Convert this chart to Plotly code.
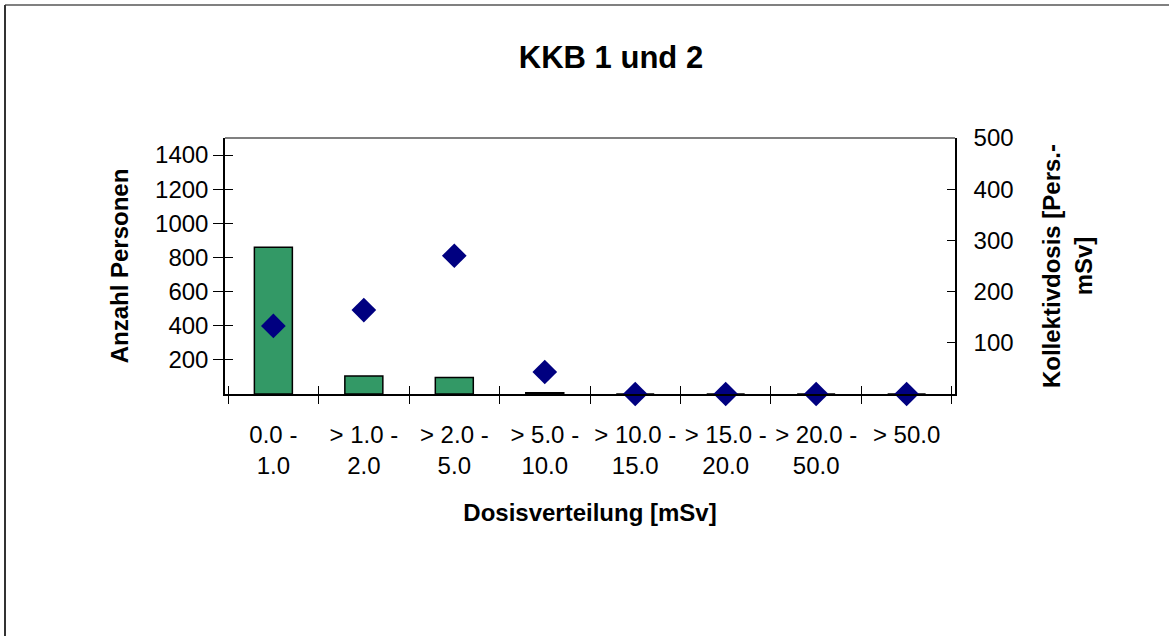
import plotly.graph_objects as go

# data
categories = ["0.0 -<br>1.0", "> 1.0 -<br>2.0", "> 2.0 -<br>5.0", "> 5.0 -<br>10.0",
              "> 10.0 -<br>15.0", "> 15.0 -<br>20.0", "> 20.0 -<br>50.0", "> 50.0"]
anzahl_personen = [860, 106, 96, 8, 0, 0, 0, 0]
kollektivdosis = [133, 164, 270, 43, 0, 0, 0, 0]

left_ticks = [200, 400, 600, 800, 1000, 1200, 1400]
right_ticks = [100, 200, 300, 400, 500]

FONT = "Liberation Sans, Arial, sans-serif"
W, H = 1171, 636
ML, MR, MT, MB = 225, 216, 138, 242

fig = go.Figure()

fig.add_trace(go.Bar(
    x=categories, y=anzahl_personen, xaxis="x", yaxis="y",
    width=0.42, marker=dict(color="#339966", line=dict(color="black", width=1.5)),
    name="Anzahl Personen", showlegend=False,
))

fig.add_trace(go.Scatter(
    x=categories, y=kollektivdosis, xaxis="x2", yaxis="y2", mode="markers",
    marker=dict(symbol="diamond", size=19, color="#000080"),
    name="Kollektivdosis", showlegend=False, cliponaxis=False,
))

# empty trace so the inner-tick copy of the left axis gets drawn
fig.add_trace(go.Scatter(x=[], y=[], xaxis="x", yaxis="y3", showlegend=False, hoverinfo="skip"))

tick_font = dict(family=FONT, size=24, color="black")
title_font = dict(family=FONT, size=24, color="black")

fig.update_layout(
    width=W, height=H,
    margin=dict(l=ML, r=MR, t=MT, b=MB),
    paper_bgcolor="white", plot_bgcolor="white",
    title=dict(text="<b>KKB 1 und 2</b>", x=611 / W, xref="container", xanchor="center",
               y=1 - 57 / H, yref="container", yanchor="middle",
               font=dict(family=FONT, size=31, color="black")),
    xaxis=dict(
        type="category", showgrid=False, zeroline=False,
        showline=True, linecolor="black", linewidth=1.5,
        ticks="outside", tickson="boundaries", ticklen=8, tickcolor="black", tickwidth=1,
        tickfont=tick_font, tickangle=0, ticklabelstandoff=18,
        title=dict(text="<b>Dosisverteilung [mSv]</b>", font=title_font, standoff=26),
    ),
    xaxis2=dict(
        type="category", overlaying="x", matches="x", anchor="y2", showgrid=False,
        zeroline=False, showline=False, showticklabels=False,
        ticks="inside", tickson="boundaries", ticklen=8, tickcolor="black", tickwidth=1,
    ),
    yaxis=dict(
        range=[0, 1500], tickvals=left_ticks, showgrid=False, zeroline=False,
        showline=True, linecolor="black", linewidth=1.5,
        ticks="outside", ticklen=10, tickcolor="black", tickwidth=1,
        tickfont=tick_font,
        title=dict(text="<b>Anzahl Personen</b>", font=title_font, standoff=20),
    ),
    yaxis3=dict(
        range=[0, 1500], tickvals=left_ticks, overlaying="y", side="left", anchor="x",
        showgrid=False, zeroline=False, showline=False, showticklabels=False,
        ticks="inside", ticklen=8, tickcolor="black", tickwidth=1,
    ),
    yaxis2=dict(
        range=[0, 500], tickvals=right_ticks, overlaying="y", side="right", anchor="x2",
        showgrid=False, zeroline=False,
        showline=True, linecolor="black", linewidth=1.5,
        ticks="inside", ticklen=8, tickcolor="black", tickwidth=1,
        tickfont=tick_font, ticklabelstandoff=12,
        title=dict(text="<b>Kollektivdosis [Pers.-<br>mSv]</b>", font=title_font, standoff=31),
    ),
)

# plot-area top edge and chart border (decoration only)
def px_x(px):
    return (px - ML) / (W - ML - MR)

def px_y(py):
    return (H - MB - py) / (H - MT - MB)

fig.add_shape(type="line", xref="paper", yref="paper", x0=0, x1=1, y0=1, y1=1,
              line=dict(color="#808080", width=2))
fig.add_shape(type="line", xref="paper", yref="paper", x0=px_x(5), x1=px_x(1169),
              y0=px_y(5), y1=px_y(5), line=dict(color="#808080", width=2))
fig.add_shape(type="line", xref="paper", yref="paper", x0=px_x(5), x1=px_x(5),
              y0=px_y(5), y1=px_y(640), line=dict(color="#333333", width=2))

fig.write_html("out.html", config={"displayModeBar": False},
               post_script="document.body.style.margin='0';")
